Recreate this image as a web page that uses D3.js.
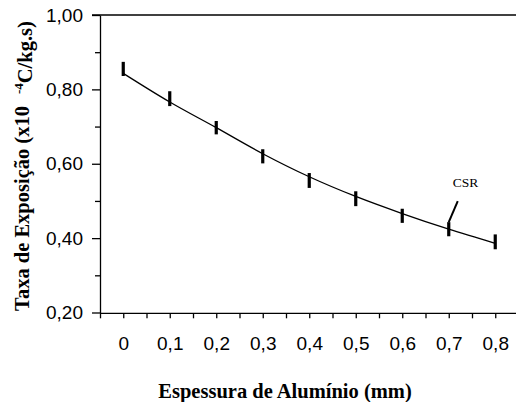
<!DOCTYPE html>
<html>
<head>
<meta charset="utf-8">
<script src="https://cdn.jsdelivr.net/npm/d3@7"></script>
<style>
  body { margin: 0; background: #fff; }
  .tick text { font-family: "Liberation Sans", Arial, sans-serif; fill: #000; }
  .title { font-family: "Liberation Serif", "Times New Roman", serif; font-weight: bold; }
</style>
</head>
<body>
<svg width="516" height="402"></svg>
<script>
// data
var thickness = [0, 0.1, 0.2, 0.3, 0.4, 0.5, 0.6, 0.7, 0.8];
var rateMean = [0.855, 0.775, 0.697, 0.620, 0.555, 0.506, 0.460, 0.424, 0.390];
var rateErr = [0.019, 0.020, 0.018, 0.019, 0.020, 0.020, 0.019, 0.019, 0.020];
var fitCurve = [0.843, 0.766, 0.697, 0.627, 0.565, 0.512, 0.466, 0.424, 0.386];
var xTicks = [-0.05, 0, 0.05, 0.1, 0.15, 0.2, 0.25, 0.3, 0.35, 0.4, 0.45, 0.5, 0.55, 0.6, 0.65, 0.7, 0.75, 0.8];
var xLabels = [0, 0.1, 0.2, 0.3, 0.4, 0.5, 0.6, 0.7, 0.8];
var yMajor = [0.2, 0.4, 0.6, 0.8, 1.0];
var yMinor = [0.3, 0.5, 0.7, 0.9];

var svg = d3.select("svg");

var x = d3.scaleLinear().domain([-0.05, 0.85]).range([100, 518.5]),
    y = d3.scaleLinear().domain([0.2, 1.0]).range([312.5, 15]);

var comma = function(v, digits) { return v.toFixed(digits).replace(".", ","); };

// top frame line
svg.append("line")
   .attr("x1", x(-0.05) - 8).attr("x2", 516)
   .attr("y1", y(1.0)).attr("y2", y(1.0))
   .attr("stroke", "#000").attr("stroke-width", 1.3);

// x axis
var gx = svg.append("g")
   .attr("transform", "translate(0," + (y(0.2) + 0.8) + ")")
   .call(d3.axisBottom(x).tickValues(xTicks).tickSize(5).tickSizeOuter(0).tickPadding(18.5)
       .tickFormat(function(d) {
           var r = Math.round(d * 100);
           if (r < 0 || r % 10 != 0) return "";
           return r == 0 ? "0" : comma(d, 1);
       }));
gx.select(".domain").attr("d", "M" + x(-0.05) + ",0H516");
gx.selectAll("line, path").attr("stroke", "#000").attr("stroke-width", 1.3);
gx.selectAll("text").style("font-size", "19px");

// y axis, major + minor
var gy = svg.append("g")
   .attr("transform", "translate(" + x(-0.05) + ",0)")
   .call(d3.axisLeft(y).tickValues(yMajor).tickSize(8).tickSizeOuter(0).tickPadding(9)
       .tickFormat(function(d) { return comma(d, 2); }));
gy.selectAll("line, path").attr("stroke", "#000").attr("stroke-width", 1.3);
gy.selectAll("text").style("font-size", "19px");

svg.append("g")
   .attr("transform", "translate(" + x(-0.05) + ",0)")
   .call(d3.axisLeft(y).tickValues(yMinor).tickSize(5).tickFormat(""))
   .call(function(g) { g.select(".domain").remove(); })
   .selectAll("line").attr("stroke", "#000").attr("stroke-width", 1.3);

// fitted curve
var line = d3.line()
   .x(function(d, i) { return x(thickness[i]); })
   .y(function(d) { return y(d); })
   .curve(d3.curveMonotoneX);

svg.append("path")
   .datum(fitCurve)
   .attr("fill", "none")
   .attr("stroke", "#000")
   .attr("stroke-width", 1.3)
   .attr("d", line);

// error bars
svg.selectAll(".err")
   .data(rateMean)
   .enter().append("line")
   .attr("class", "err")
   .attr("x1", function(d, i) { return x(thickness[i]); })
   .attr("x2", function(d, i) { return x(thickness[i]); })
   .attr("y1", function(d, i) { return y(d + rateErr[i]); })
   .attr("y2", function(d, i) { return y(d - rateErr[i]); })
   .attr("stroke", "#000")
   .attr("stroke-width", 3.2);

// CSR annotation
var ax = x(0.7), ay = y(rateMean[7] + rateErr[7]);
svg.append("line")
   .attr("x1", ax).attr("y1", ay)
   .attr("x2", ax + 9).attr("y2", ay - 21)
   .attr("stroke", "#000").attr("stroke-width", 2);
svg.append("text")
   .attr("x", ax + 4).attr("y", ay - 35)
   .style("font-family", "'Liberation Serif', 'Times New Roman', serif")
   .style("font-weight", "normal")
   .style("font-size", "13.5px")
   .text("CSR");

// axis titles
svg.append("text")
   .attr("class", "title")
   .attr("x", 285).attr("y", 398)
   .attr("text-anchor", "middle")
   .style("font-size", "20.5px")
   .text("Espessura de Alumínio (mm)");

var yt = svg.append("text")
   .attr("class", "title")
   .attr("transform", "translate(29,166) rotate(-90)")
   .attr("text-anchor", "middle")
   .style("font-size", "20.5px");
yt.append("tspan").text("Taxa de Exposição (x10");
yt.append("tspan").attr("dx", 12).attr("dy", "-0.45em").style("font-size", "13px").text("-4");
yt.append("tspan").attr("dy", "0.45em").text("C/kg.s)");
</script>
</body>
</html>
